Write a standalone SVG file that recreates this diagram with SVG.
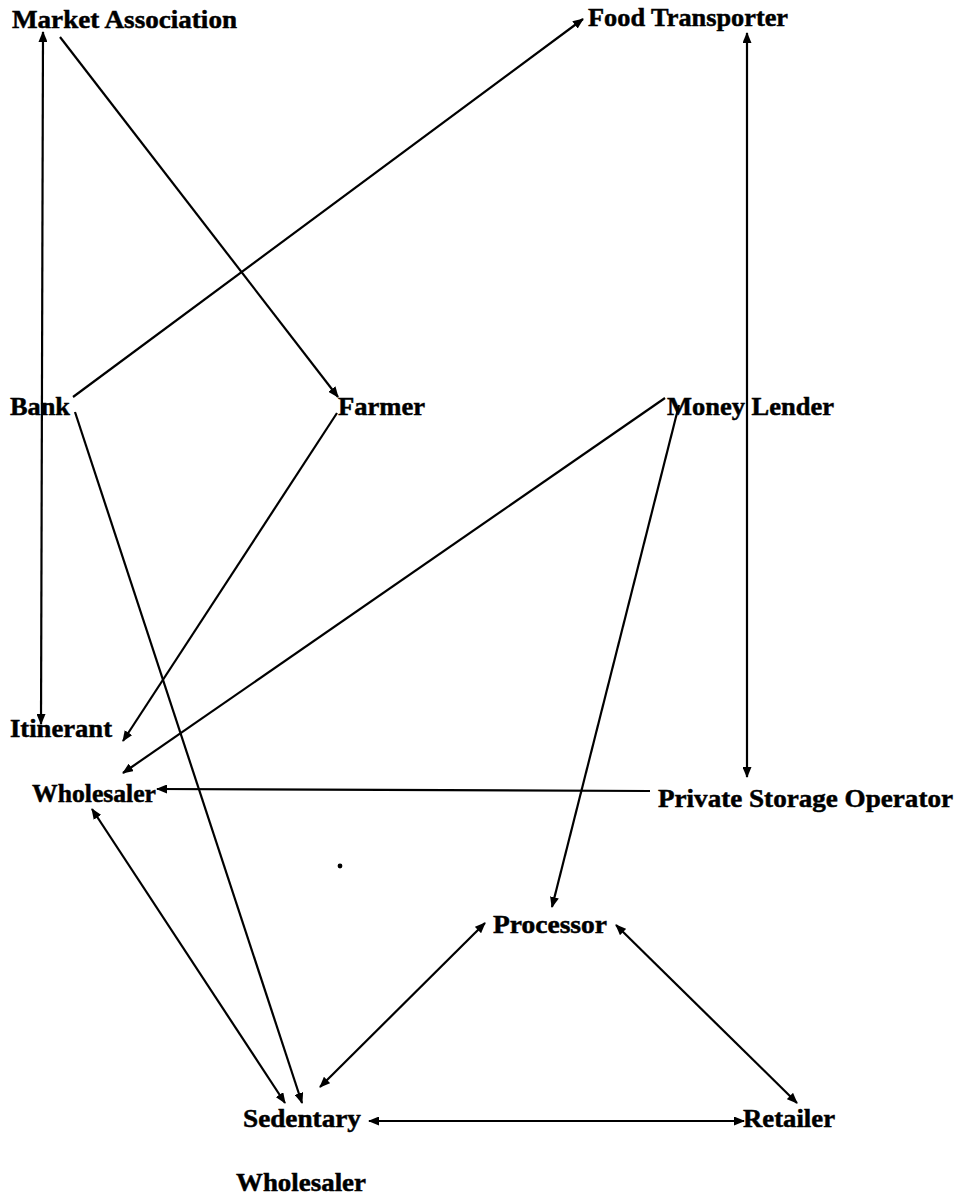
<svg xmlns="http://www.w3.org/2000/svg" width="963" height="1198" viewBox="0 0 963 1198">
<style>
text { font-family: "Liberation Serif", "Times New Roman", serif; font-weight: bold; font-size: 26px; fill: #000; stroke: #000; stroke-width: 0.5; }
.c { stroke: #000; stroke-width: 2.2; fill: none; }
.one { marker-end: url(#ah); }
.two { marker-start: url(#ah); marker-end: url(#ah); }
</style>
<defs>
<marker id="ah" markerUnits="userSpaceOnUse" markerWidth="11" markerHeight="9" refX="10" refY="4.5" orient="auto-start-reverse">
<path d="M0,0 L11,4.5 L0,9 z" fill="#000"/>
</marker>
</defs>
<rect width="963" height="1198" fill="#fff"/>
<g id="connectors">
<line class="c two" x1="43" y1="32" x2="41" y2="724"/>
<line class="c one" x1="60" y1="37" x2="338" y2="397"/>
<line class="c one" x1="73" y1="397" x2="583" y2="19"/>
<line class="c one" x1="75" y1="412" x2="302" y2="1103"/>
<line class="c one" x1="337" y1="413" x2="123" y2="741"/>
<line class="c one" x1="665" y1="398" x2="123" y2="773"/>
<line class="c one" x1="679" y1="405" x2="552" y2="907"/>
<line class="c two" x1="747" y1="33" x2="747" y2="777"/>
<line class="c one" x1="650" y1="791" x2="157" y2="789"/>
<line class="c two" x1="92" y1="809" x2="285" y2="1103"/>
<line class="c two" x1="485" y1="923" x2="320" y2="1087"/>
<line class="c two" x1="616" y1="925" x2="797" y2="1103"/>
<line class="c two" x1="369" y1="1121" x2="744" y2="1121"/>
</g>
<circle cx="340" cy="866" r="2.4" fill="#000"/>
<g id="market-association"><text x="12" y="28" textLength="225" lengthAdjust="spacingAndGlyphs">Market Association</text></g>
<g id="food-transporter"><text x="588" y="26" textLength="200" lengthAdjust="spacingAndGlyphs">Food Transporter</text></g>
<g id="bank"><text x="10" y="415" textLength="60" lengthAdjust="spacingAndGlyphs">Bank</text></g>
<g id="farmer"><text x="338" y="415" textLength="87" lengthAdjust="spacingAndGlyphs">Farmer</text></g>
<g id="money-lender"><text x="667" y="415" textLength="167" lengthAdjust="spacingAndGlyphs">Money Lender</text></g>
<g id="itinerant-wholesaler">
<text x="10" y="737" textLength="102" lengthAdjust="spacingAndGlyphs">Itinerant</text>
<text x="32" y="802" textLength="124" lengthAdjust="spacingAndGlyphs">Wholesaler</text>
</g>
<g id="private-storage-operator"><text x="658" y="807" textLength="295" lengthAdjust="spacingAndGlyphs">Private Storage Operator</text></g>
<g id="processor"><text x="493" y="933" textLength="114" lengthAdjust="spacingAndGlyphs">Processor</text></g>
<g id="sedentary-wholesaler">
<text x="243" y="1127" textLength="118" lengthAdjust="spacingAndGlyphs">Sedentary</text>
<text x="236" y="1191" textLength="130" lengthAdjust="spacingAndGlyphs">Wholesaler</text>
</g>
<g id="retailer"><text x="743" y="1127" textLength="92" lengthAdjust="spacingAndGlyphs">Retailer</text></g>
</svg>
